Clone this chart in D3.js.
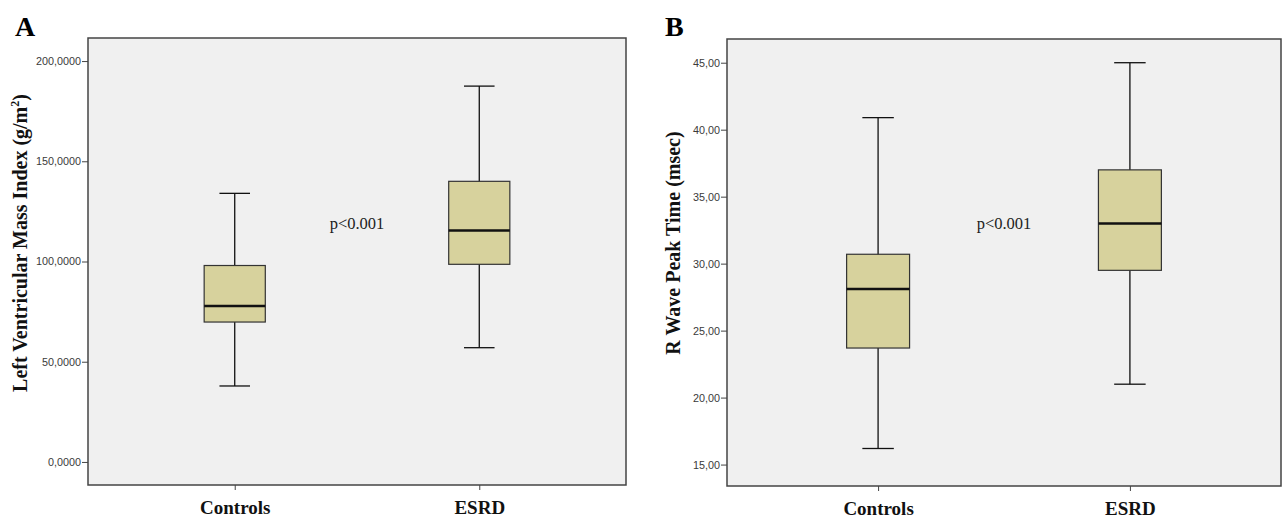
<!DOCTYPE html>
<html lang="en">
<head>
<meta charset="UTF-8">
<title>Box plots</title>
<script src="https://cdn.jsdelivr.net/npm/d3@7"></script>
<style>
  body { margin: 0; background: #fff; }
  svg { display: block; }
  .xlab text { font-family: "Liberation Serif", "Times New Roman", serif; }
</style>
</head>
<body>
<div id="chart"></div>
<script>
// groups
var categories = ["Controls", "ESRD"];

// panel A: left ventricular mass index, five-number summaries [min, q1, median, q3, max]
var lvmiStats = [
  [37.9, 69.8, 77.8, 98.0, 134.0],
  [57.0, 98.6, 115.5, 140.0, 187.5]
];
var lvmiTicks = [0, 50, 100, 150, 200];

// panel B: R wave peak time
var rwptStats = [
  [16.2, 23.7, 28.1, 30.7, 40.9],
  [21.0, 29.5, 33.0, 37.0, 45.0]
];
var rwptTicks = [15, 20, 25, 30, 35, 40, 45];

var W = 1283, H = 518;
var serif = "'Liberation Serif', 'Times New Roman', serif";
var svg = d3.select("#chart").append("svg").attr("width", W).attr("height", H);

var panels = [
  { letter: "A", lx: 15, title: "Left Ventricular Mass Index (g/m", sup: "2", titleClose: ")",
    tx: 27, left: 88, right: 626, top: 38, bottom: 485,
    domain: [-11.5, 211.5], ticks: lvmiTicks, stats: lvmiStats, fmt: d3.format(".4f"), px: 357 },
  { letter: "B", lx: 665, title: "R Wave Peak Time (msec)", sup: null, titleClose: "",
    tx: 680, left: 727, right: 1281, top: 39, bottom: 486,
    domain: [13.4, 46.77], ticks: rwptTicks, stats: rwptStats, fmt: d3.format(".2f"), px: 1004 }
];

panels.forEach(function (p) {
  var g = svg.append("g");

  var y = d3.scaleLinear().domain(p.domain).range([p.bottom, p.top]);
  var x = d3.scalePoint().domain(categories).range([p.left, p.right]).padding(0.6);
  var step = x.step();

  // plot background
  g.append("rect")
    .attr("x", p.left).attr("y", p.top)
    .attr("width", p.right - p.left).attr("height", p.bottom - p.top)
    .attr("fill", "#f0f0f0");

  // y axis with comma decimals
  var yAxis = d3.axisLeft(y).tickValues(p.ticks).tickSize(6)
    .tickFormat(function (d) { return p.fmt(d).replace(".", ","); });
  var ya = g.append("g").attr("transform", "translate(" + p.left + ",0)").call(yAxis);
  ya.select(".domain").remove();
  ya.selectAll("line").attr("stroke", "#444");
  ya.selectAll("text").attr("font-family", "'Liberation Sans', Arial, sans-serif")
    .attr("font-size", 10.8).attr("fill", "#3a3a3a").attr("x", -7);

  // x axis
  var xAxis = d3.axisBottom(x).tickSize(5).tickPadding(11);
  var xa = g.append("g").attr("class", "xlab")
    .attr("transform", "translate(0," + p.bottom + ")").call(xAxis);
  xa.attr("font-family", null);
  xa.select(".domain").remove();
  xa.selectAll("line").attr("stroke", "#444");
  xa.selectAll("text")
    .attr("font-size", 19).attr("font-weight", "bold").attr("fill", "#111");

  // frame
  g.append("rect")
    .attr("x", p.left).attr("y", p.top)
    .attr("width", p.right - p.left).attr("height", p.bottom - p.top)
    .attr("fill", "none").attr("stroke", "#444").attr("stroke-width", 1.5);

  // boxes
  var bw = step * 0.25;
  var boxes = g.selectAll(".box").data(p.stats).enter().append("g")
    .attr("transform", function (d, i) { return "translate(" + x(categories[i]) + ",0)"; });

  boxes.append("line")
    .attr("x1", 0).attr("x2", 0)
    .attr("y1", function (d) { return y(d[4]); })
    .attr("y2", function (d) { return y(d[0]); })
    .attr("stroke", "#111").attr("stroke-width", 1.3);

  boxes.selectAll(".cap").data(function (d) { return [d[0], d[4]]; }).enter().append("line")
    .attr("x1", -bw / 4).attr("x2", bw / 4)
    .attr("y1", function (v) { return y(v); }).attr("y2", function (v) { return y(v); })
    .attr("stroke", "#111").attr("stroke-width", 1.3);

  boxes.append("rect")
    .attr("x", -bw / 2).attr("width", bw)
    .attr("y", function (d) { return y(d[3]); })
    .attr("height", function (d) { return y(d[1]) - y(d[3]); })
    .attr("fill", "#d7d29d").attr("stroke", "#333").attr("stroke-width", 1.2);

  boxes.append("line")
    .attr("x1", -bw / 2).attr("x2", bw / 2)
    .attr("y1", function (d) { return y(d[2]); }).attr("y2", function (d) { return y(d[2]); })
    .attr("stroke", "#111").attr("stroke-width", 2.5);

  // p value
  g.append("text")
    .attr("x", p.px).attr("y", 229)
    .attr("text-anchor", "middle")
    .attr("font-family", serif)
    .attr("font-size", 16.5).attr("fill", "#222")
    .text("p<0.001");

  // y title
  var t = g.append("text")
    .attr("transform", "translate(" + p.tx + ",243) rotate(-90)")
    .attr("text-anchor", "middle")
    .attr("font-family", serif)
    .attr("font-size", 20).attr("font-weight", "bold").attr("fill", "#111");
  t.append("tspan").text(p.title);
  if (p.sup) {
    t.append("tspan").attr("font-size", 12).attr("dy", -8).text(p.sup);
    t.append("tspan").attr("dy", 8).text(p.titleClose);
  }

  // panel letter
  g.append("text")
    .attr("x", p.lx).attr("y", 36)
    .attr("font-family", serif)
    .attr("font-size", 28).attr("font-weight", "bold").attr("fill", "#000")
    .text(p.letter);
});
</script>
</body>
</html>
